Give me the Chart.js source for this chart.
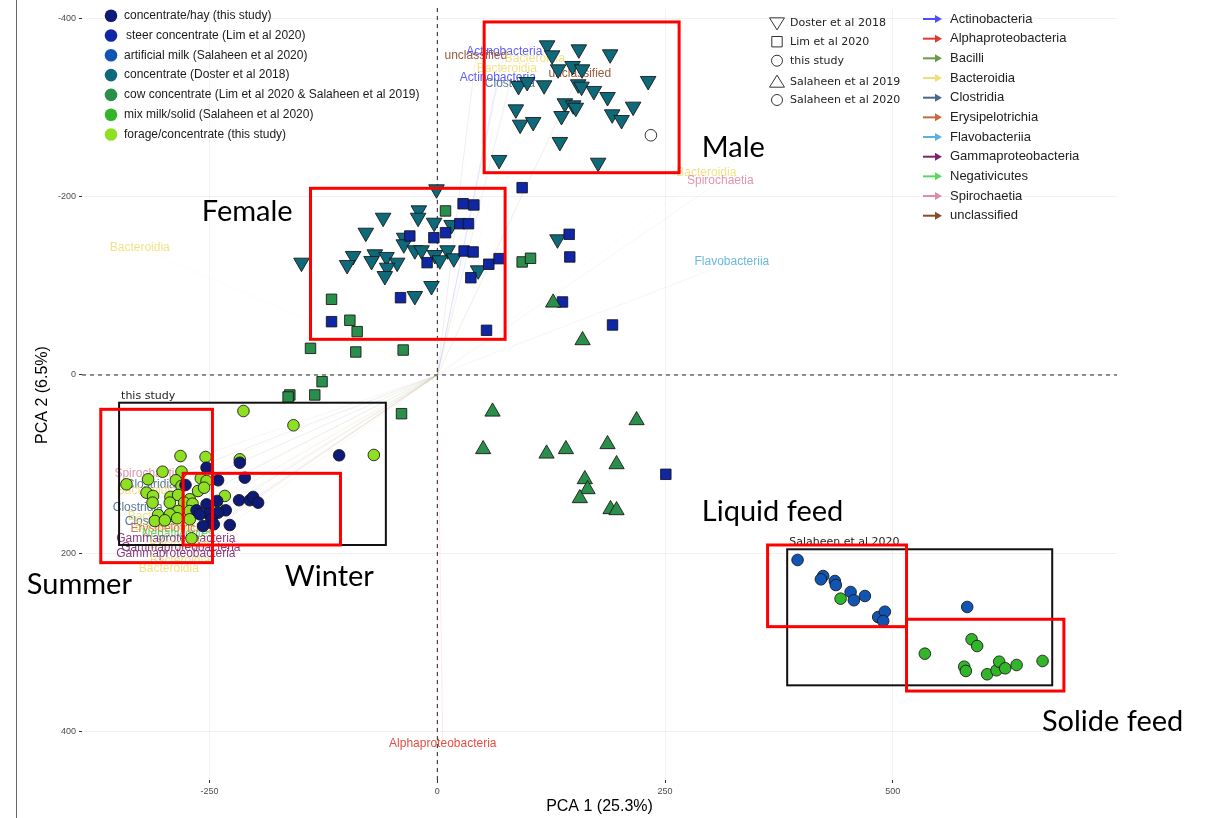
<!DOCTYPE html>
<html lang="en">
<head>
<meta charset="UTF-8">
<title>PCA – rumen microbiota</title>
<script src="https://cdn.jsdelivr.net/npm/chart.js@4"></script>
<style>
  body { margin: 0; background: #fff; }
  #wrap { width: 1213px; height: 818px; }
</style>
</head>
<body>
<div id="wrap"><canvas id="pca" width="1213" height="818"></canvas></div>
<script>
// axis ticks
const xTicks = [-250, 0, 250, 500];
const yTicks = [-400, -200, 0, 200, 400];

// diet groups (fill colour legend)
const groupNames = [
  'concentrate/hay (this study)',
  'steer concentrate (Lim et al 2020)',
  'artificial milk (Salaheen et al 2020)',
  'concentrate (Doster et al 2018)',
  'cow concentrate (Lim et al 2020 & Salaheen et al 2019)',
  'mix milk/solid (Salaheen et al 2020)',
  'forage/concentrate (this study)'
];
const groupColors = ['#0d1a78', '#0f26a6', '#1155b4', '#0e6a7a', '#2a8f4a', '#33b52a', '#8fe022'];

// study (shape legend)
const studyNames = ['Doster et al 2018', 'Lim et al 2020', 'this study', 'Salaheen et al 2019', 'Salaheen et al 2020'];
const studyShapes = ['triangleDown', 'square', 'circle', 'triangleUp', 'circle'];

// PCA scores [PC1, PC2]
const dosterPts = [
  [120.5,-369.8],[155.3,-365.3],[189.7,-359.7],[126.0,-358.6],[148.4,-346.6],[132.6,-342.9],[158.9,-342.9],
  [89.1,-324.2],[98.6,-328.7],[117.2,-325.0],[154.6,-326.1],[158.3,-323.4],[171.8,-318.6],[186.8,-311.8],
  [231.4,-329.8],[86.2,-298.0],[140.0,-304.8],[149.1,-302.5],[152.0,-299.8],[136.3,-290.5],[191.9,-292.4],
  [202.2,-286.0],[214.9,-301.0],[90.9,-280.8],[105.2,-283.8],[134.5,-261.4],[67.8,-241.2],[176.5,-238.1],
  [-0.9,-208.3],[-20.3,-184.7],[-21.1,-176.4],[-59.5,-176.4],[-3.5,-170.8],[15.6,-168.3],[-78.5,-159.6],
  [-36.4,-154.0],[-36.8,-146.6],[-24.7,-139.9],[-17.3,-139.9],[-2.7,-134.6],[11.2,-139.9],[18.1,-130.9],
  [2.7,-128.7],[-92.4,-133.5],[-99.0,-123.4],[-68.6,-135.4],[-72.2,-127.9],[-55.8,-132.4],[-44.1,-126.0],
  [-55.1,-120.4],[-57.6,-111.0],[-6.4,-99.8],[-24.7,-88.6],[-149.1,-126.0],[44.8,-117.4],[131.9,-152.2]
];
const limSteerPts = [
  [93.1,-210.1],[28.3,-192.1],[40.1,-190.7],[9.0,-159.6],[24.7,-169.7],[34.2,-169.7],[-3.8,-154.0],
  [-30.2,-155.9],[29.4,-139.1],[39.3,-138.0],[-11.2,-126.0],[56.5,-124.2],[67.8,-130.5],[36.8,-109.1],
  [-40.4,-86.7],[-116.1,-59.8],[54.0,-50.1],[144.7,-157.8],[145.4,-132.4],[137.4,-81.9],[192.3,-56.1],[250.8,111.4]
];
const limCowPts = [
  [9.0,-184.0],[93.1,-126.8],[102.3,-130.9],[-116.1,-84.9],[-96.0,-61.4],[-88.0,-48.6],[-139.2,-29.9],
  [-89.5,-25.8],[-37.5,-28.0],[-126.5,7.5],[-161.9,22.4],[-134.5,22.4],[-163.8,24.7],[-39.3,43.4]
];
const salaheen2019Pts = [
  [127.1,-81.1],[159.4,-38.9],[60.6,41.2],[218.7,50.8],[50.3,83.3],[119.9,88.3],[141.1,83.3],
  [186.8,77.7],[196.7,100.2],[161.9,117.0],[164.9,128.2],[156.4,138.3],[190.1,150.6],[196.7,151.8]
];
const hayPts = [
  [-216.8,98.4],[-253.3,104.0],[-107.8,90.1],[-211.3,115.2],[-240.6,118.1],[-276.4,123.4],[-217.6,140.5],
  [-205.8,140.5],[-202.2,136.8],[-196.7,143.2],[-241.7,141.3],[-253.3,145.0],[-232.2,151.8],[-264.3,151.8],
  [-240.6,154.5],[-251.6,155.6],[-260.7,156.3],[-247.9,161.9],[-227.8,168.3],[-257.1,169.4],[-245.3,167.5]
];
const foragePts = [
  [-212.8,40.4],[-157.9,56.4],[-69.7,89.7],[-281.9,90.9],[-254.4,92.0],[-216.8,94.6],[-301.6,108.5],
  [-280.8,108.5],[-341.2,122.6],[-317.5,117.0],[-287.0,118.1],[-259.6,115.9],[-253.3,118.9],[-280.8,124.5],
  [-262.6,130.1],[-256.0,126.4],[-319.2,132.0],[-312.0,135.7],[-292.9,136.8],[-284.5,134.6],[-271.7,139.4],
  [-233.3,135.7],[-312.6,143.2],[-293.6,143.2],[-277.9,143.2],[-268.7,144.4],[-242.4,146.9],[-284.5,152.6],
  [-271.7,152.6],[-306.5,157.0],[-293.6,156.3],[-310.1,163.8],[-299.1,163.0],[-285.6,160.7],[-271.7,161.9],
  [-269.8,183.2]
];
const milkPts = [
  [395.4,207.5],[423.5,225.5],[421.0,229.2],[436.3,231.1],[437.4,235.6],[453.6,243.4],[457.2,252.7],
  [469.3,247.9],[483.9,271.5],[491.2,265.5],[489.4,275.9],[581.6,260.2]
];
const mixSolidPts = [
  [442.6,250.9],[586.4,296.5],[592.5,304.0],[535.1,312.6],[578.3,327.2],[580.1,332.0],[603.5,335.7],
  [613.8,331.2],[616.7,321.6],[623.3,329.0],[635.8,325.3],[664.3,320.8]
];
const openPts = [[234.4,-268.9]];

// loadings (taxon index, PC1, PC2 of label)
const taxa = ['Actinobacteria', 'Alphaproteobacteria', 'Bacilli', 'Bacteroidia', 'Clostridia', 'Erysipelotrichia',
  'Flavobacteriia', 'Gammaproteobacteria', 'Negativicutes', 'Spirochaetia', 'unclassified'];
const taxaColors = ['#4d4dff', '#e3382e', '#6a9a4a', '#efdf78', '#476a8a', '#c96a3e', '#5ab0e2', '#7d2470', '#5cd65c', '#e08aa6', '#8b4a26'];
const loadings = [
  [0,73.5,-362.7],[10,42.3,-357.9],[3,107.0,-354.8],[3,76.3,-344.0],[10,156.4,-338.4],[0,66.4,-333.5],[4,79.6,-326.8],
  [3,295.3,-226.6],[9,310.6,-217.6],[3,-326.6,-142.5],[6,323.3,-126.8],[1,6.0,413.9],
  [9,-317.8,111.0],[4,-314.5,123.4],[3,-318.9,130.1],[4,-328.8,149.2],[3,-306.8,159.3],[4,-315.6,164.9],
  [3,-299.1,170.5],[5,-292.0,172.5],[8,-284.8,178.4],[7,-287.0,184.0],[3,-283.0,190.0],[7,-281.5,194.1],
  [7,-287.0,200.8],[3,-282.6,208.6],[3,-294.7,217.6]
];

// annotation boxes [x1, y1, x2, y2]
const redBoxes = [
  [51.4,-396.0,265.4,-226.9], [-139.2,-209.4,74.4,-40.0], [-369.4,38.5,-246.8,210.5],
  [-279.0,110.3,-106.3,190.7], [362.5,190.7,515.0,282.3], [515.0,274.0,687.7,354.5]
];
const blackBoxes = [[-349.3,31.1,-56.5,190.7], [384.0,195.5,674.9,348.1]];
const blackBoxNames = ['this study', 'Salaheen et al 2020'];
const regionNames = ['Male', 'Female', 'Liquid feed', 'Solide feed', 'Summer', 'Winter'];
const regionAt = [[290.3,-254.6], [-258.5,-182.8], [290.3,153.7], [663.6,389.2], [-450.6,235.6], [-167.4,226.6]];

const toXY = pts => pts.map(([x, y]) => ({x, y}));
const sans = '"Liberation Sans", Arial, sans-serif';

function shape(ctx, kind, x, y, r) {
  ctx.beginPath();
  if (kind === 'circle') ctx.arc(x, y, r, 0, Math.PI * 2);
  else if (kind === 'square') ctx.rect(x - r * 0.8, y - r * 0.8, r * 1.6, r * 1.6);
  else {
    const d = kind === 'triangleDown' ? 1 : -1;
    ctx.moveTo(x - r * 1.15, y - d * r * 0.75);
    ctx.lineTo(x + r * 1.15, y - d * r * 0.75);
    ctx.lineTo(x, y + d * r * 1.1);
    ctx.closePath();
  }
}

const annot = {
  id: 'annot',
  beforeDatasetsDraw(chart) {
    const {ctx, chartArea: a, scales: {x, y}} = chart;
    const x0 = x.getPixelForValue(0), y0 = y.getPixelForValue(0);
    ctx.save();
    ctx.lineWidth = 1;
    loadings.forEach(([t, lx, ly]) => {
      ctx.strokeStyle = taxaColors[t];
      ctx.globalAlpha = 0.1;
      ctx.beginPath();
      ctx.moveTo(x0, y0);
      ctx.lineTo(x.getPixelForValue(lx), y.getPixelForValue(ly));
      ctx.stroke();
    });
    ctx.globalAlpha = 1;
    ctx.strokeStyle = '#222';
    ctx.setLineDash([4, 4]);
    ctx.beginPath();
    ctx.moveTo(x0, a.top - 2); ctx.lineTo(x0, a.bottom + 2);
    ctx.moveTo(a.left, y0); ctx.lineTo(a.right, y0);
    ctx.stroke();
    ctx.setLineDash([]);
    ctx.font = '12px ' + sans;
    ctx.textAlign = 'center';
    ctx.textBaseline = 'middle';
    loadings.forEach(([t, lx, ly]) => {
      ctx.fillStyle = taxaColors[t];
      ctx.globalAlpha = 0.9;
      ctx.fillText(taxa[t], x.getPixelForValue(lx), y.getPixelForValue(ly));
    });
    ctx.restore();
  },
  afterDatasetsDraw(chart) {
    const {ctx, scales: {x, y}} = chart;
    ctx.save();
    ctx.strokeStyle = '#111';
    ctx.lineWidth = 2;
    ctx.font = '11px "DejaVu Sans", sans-serif';
    ctx.fillStyle = '#222';
    ctx.textAlign = 'left';
    ctx.textBaseline = 'middle';
    blackBoxes.forEach((b, i) => {
      const l = x.getPixelForValue(b[0]), t = y.getPixelForValue(b[1]);
      ctx.strokeRect(l, t, x.getPixelForValue(b[2]) - l, y.getPixelForValue(b[3]) - t);
      ctx.fillText(blackBoxNames[i], l + 2, t - 7);
    });
    ctx.strokeStyle = '#ff0000';
    ctx.lineWidth = 3;
    redBoxes.forEach(b => {
      const l = x.getPixelForValue(b[0]), t = y.getPixelForValue(b[1]);
      ctx.strokeRect(l, t, x.getPixelForValue(b[2]) - l, y.getPixelForValue(b[3]) - t);
    });
    ctx.fillStyle = '#000';
    ctx.font = '29px Lato, sans-serif';
    regionNames.forEach((n, i) => {
      ctx.fillText(n, x.getPixelForValue(regionAt[i][0]), y.getPixelForValue(regionAt[i][1]));
    });
    ctx.restore();
  },
  afterDraw(chart) {
    const ctx = chart.ctx;
    ctx.save();
    // frame line on the left of the figure
    ctx.strokeStyle = '#666';
    ctx.lineWidth = 1;
    ctx.beginPath(); ctx.moveTo(16.5, 0); ctx.lineTo(16.5, 818); ctx.stroke();

    ctx.textAlign = 'left';
    ctx.textBaseline = 'middle';
    // fill legend
    ctx.font = '12px ' + sans;
    groupNames.forEach((n, i) => {
      const cy = 15.7 + i * 19.8;
      ctx.fillStyle = groupColors[i];
      shape(ctx, 'circle', 111, cy, 6.3);
      ctx.fill();
      ctx.fillStyle = '#1a1a1a';
      ctx.fillText(n, i === 1 ? 126 : 124, cy);
    });
    // shape legend
    const sy = [22.7, 41.7, 60.7, 82.3, 100];
    ctx.font = '11px "DejaVu Sans", sans-serif';
    ctx.strokeStyle = '#333';
    ctx.lineWidth = 1;
    studyNames.forEach((n, i) => {
      shape(ctx, studyShapes[i], 777, sy[i], studyShapes[i] === 'circle' ? 5.5 : 6.5);
      ctx.stroke();
      ctx.fillStyle = '#222';
      ctx.fillText(n, 790, sy[i]);
    });
    // arrow legend
    ctx.font = '13px ' + sans;
    ctx.lineWidth = 2;
    taxa.forEach((n, i) => {
      const cy = 19 + i * 19.67;
      ctx.strokeStyle = taxaColors[i];
      ctx.fillStyle = taxaColors[i];
      ctx.beginPath(); ctx.moveTo(923, cy); ctx.lineTo(937, cy); ctx.stroke();
      ctx.beginPath(); ctx.moveTo(942, cy); ctx.lineTo(935, cy - 4); ctx.lineTo(935, cy + 4); ctx.closePath(); ctx.fill();
      ctx.fillStyle = '#222';
      ctx.fillText(n, 950, cy);
    });
    ctx.restore();
  }
};

const pointSet = (label, pts, color, style, radius, rot) => ({
  label, data: toXY(pts),
  backgroundColor: color, borderColor: 'rgba(20,20,20,0.85)', borderWidth: 1,
  pointStyle: style, pointRadius: radius, pointRotation: rot || 0, pointHoverRadius: radius
});

new Chart(document.getElementById('pca'), {
  type: 'scatter',
  data: {
    datasets: [
      pointSet(groupNames[2], milkPts, groupColors[2], 'circle', 5.8),
      pointSet(groupNames[5], mixSolidPts, groupColors[5], 'circle', 5.8),
      pointSet(groupNames[0], hayPts, groupColors[0], 'circle', 5.8),
      pointSet(groupNames[6], foragePts, groupColors[6], 'circle', 5.8),
      pointSet('this study (open)', openPts, '#ffffff', 'circle', 5.8),
      pointSet(groupNames[4] + ' 2019', salaheen2019Pts, groupColors[4], 'triangle', 8.8),
      pointSet(groupNames[1], limSteerPts, groupColors[1], 'rect', 7.4),
      pointSet(groupNames[4], limCowPts, groupColors[4], 'rect', 7.4),
      pointSet(groupNames[3], dosterPts, groupColors[3], 'triangle', 9, 180)
    ]
  },
  options: {
    responsive: false,
    animation: false,
    devicePixelRatio: 1,
    layout: { padding: { left: 0, right: 96, top: 5, bottom: 0 } },
    plugins: { legend: { display: false }, tooltip: { enabled: false } },
    scales: {
      x: {
        type: 'linear', min: -390, max: 746,
        afterBuildTicks: s => { s.ticks = xTicks.map(v => ({value: v})); },
        afterFit: s => { s.height = 38; },
        border: { display: false },
        grid: { color: 'rgba(0,0,0,0.05)', tickColor: '#333', tickLength: 3 },
        ticks: { font: { size: 9, family: sans }, color: '#4d4d4d', padding: 3 },
        title: { display: true, text: 'PCA 1 (25.3%)', font: { size: 16, family: sans }, color: '#000', padding: { top: 0, bottom: 2 } }
      },
      y: {
        type: 'linear', min: -409.4, max: 454.3, reverse: true,
        afterBuildTicks: s => { s.ticks = yTicks.map(v => ({value: v})); },
        afterFit: s => { s.width = 82; },
        border: { display: false },
        grid: { color: 'rgba(0,0,0,0.05)', tickColor: '#333', tickLength: 3 },
        ticks: { font: { size: 9, family: sans }, color: '#4d4d4d', padding: 3 },
        title: { display: true, text: 'PCA 2 (6.5%)', font: { size: 16, family: sans }, color: '#000', padding: { top: 33, bottom: 0 } }
      }
    }
  },
  plugins: [annot]
});
</script>
</body>
</html>
